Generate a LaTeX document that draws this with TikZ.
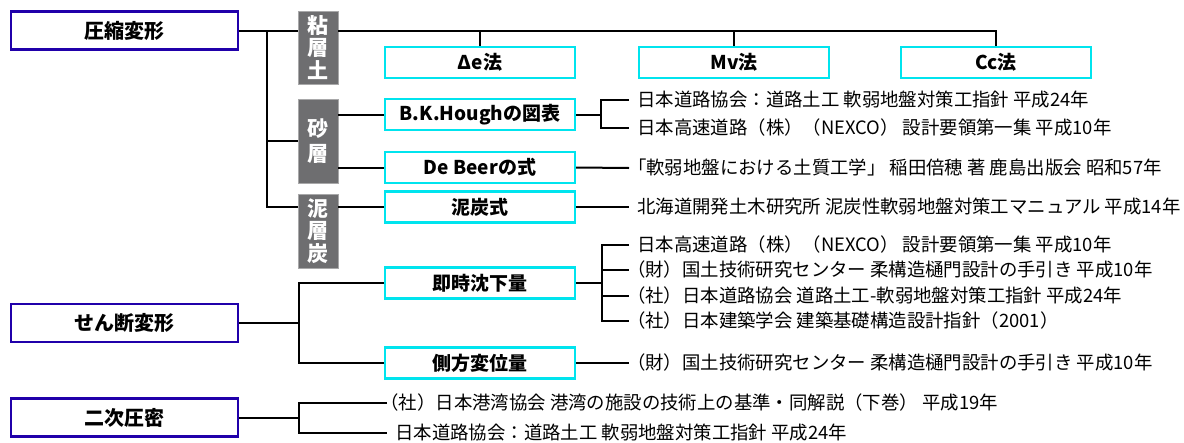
\documentclass[tikz,border=0pt]{standalone}
\usepackage{fontspec}
\setmainfont{Noto Sans CJK JP}
\definecolor{myblue}{RGB}{32,0,170}
\definecolor{mycyan}{RGB}{0,228,238}
\definecolor{mygray}{RGB}{110,110,112}
\begin{document}
\begin{tikzpicture}[x=1pt,y=-1pt,
  mainbox/.style={draw=myblue, line width=2.5pt, fill=white, minimum width=227pt, minimum height=38pt, inner sep=0pt, font=\fontsize{20}{24}\selectfont\bfseries},
  cbox/.style={draw=mycyan, line width=2.4pt, fill=white, minimum width=190pt, minimum height=31pt, inner sep=0pt, font=\fontsize{19}{22}\selectfont\bfseries},
  gbox/.style={fill=mygray, draw=mygray!60, line width=0.8pt, text=white, minimum width=40pt, inner sep=0pt, align=center, font=\fontsize{21}{22.5}\selectfont\bfseries},
  ref/.style={anchor=west, inner xsep=8pt, inner ysep=1pt, font=\fontsize{18.4}{20}\selectfont},
  conn/.style={line width=2pt, black}]
\useasboundingbox (0,0) rectangle (1184,442);

% main category boxes
\node[mainbox] (A) at (124.5,30.5) {圧縮変形};
\node[mainbox] (B) at (124.5,323) {せん断変形};
\node[mainbox] (C) at (124.5,417.5) {二次圧密};

% gray soil boxes
\node[gbox, minimum height=73pt] (G1) at (318,47.5) {粘\\層\\土};
\node[gbox, minimum height=84pt, font=\fontsize{21}{25.5}\selectfont\bfseries] (G2) at (318,141) {砂\\層};
\node[gbox, minimum height=74pt] (G3) at (318,231) {泥\\層\\炭};

% cyan method boxes
\node[cbox] (De) at (480,62.5) {Δe法};
\node[cbox] (Mv) at (734,62.5) {Mv法};
\node[cbox] (Cc) at (996,62.5) {Cc法};
\node[cbox] (H) at (480,114.5) {B.K.Houghの図表};
\node[cbox] (D) at (480,167.5) {De Beerの式};
\node[cbox] (P) at (480,207) {泥炭式};
\node[cbox] (J) at (480,283) {即時沈下量};
\node[cbox] (S) at (480,363) {側方変位量};

% reference texts
\node[ref] (r1) at (629,100) {日本道路協会：道路土工 軟弱地盤対策工指針 平成24年};
\node[ref] (r2) at (629,128) {日本高速道路（株）（NEXCO） 設計要領第一集 平成10年};
\node[ref] (r3) at (629,168) {\hspace*{-0.5em}「軟弱地盤における土質工学」 稲田倍穂 著 鹿島出版会 昭和57年};
\node[ref] (r4) at (629,207) {北海道開発土木研究所 泥炭性軟弱地盤対策工マニュアル 平成14年};
\node[ref] (q1) at (629,245) {日本高速道路（株）（NEXCO） 設計要領第一集 平成10年};
\node[ref] (q2) at (629,270) {\hspace*{-0.55em}（財）国土技術研究センター 柔構造樋門設計の手引き 平成10年};
\node[ref] (q3) at (629,296) {\hspace*{-0.55em}（社）日本道路協会 道路土工-軟弱地盤対策工指針 平成24年};
\node[ref] (q4) at (629,321) {\hspace*{-0.55em}（社）日本建築学会 建築基礎構造設計指針（2001）};
\node[ref] (s1) at (629,363) {\hspace*{-0.55em}（財）国土技術研究センター 柔構造樋門設計の手引き 平成10年};
\node[ref] (n1) at (387,403) {\hspace*{-0.8em}（社）日本港湾協会 港湾の施設の技術上の基準・同解説（下巻） 平成19年};
\node[ref] (n2) at (387,433) {日本道路協会：道路土工 軟弱地盤対策工指針 平成24年};

% compression tree
\coordinate (tA) at (267,30.5);
\draw[conn] (A.east) -- (A.east -| G1.west);
\draw[conn] (tA) |- (G3.west |- P.west);
\draw[conn] (tA |- G2.west) -- (G2.west);
\draw[conn] (G1.east |- A.east) -| (Cc.north);
\draw[conn] (De.north) -- (De.north |- A.east);
\draw[conn] (Mv.north) -- (Mv.north |- A.east);
\draw[conn] (G2.east |- H.west) -- (H.west);
\draw[conn] (G2.east |- D.west) -- (D.west);
\draw[conn] (G3.east |- P.west) -- (P.west);

% Hough bracket
\path (H.east) ++(25,0) coordinate (hb);
\draw[conn] (H.east) -- (hb);
\draw[conn] (r1.west) -| (hb) |- (r2.west);
\draw[conn] (D.east) -- (r3.west);
\draw[conn] (P.east) -- (r4.west);

% shear tree
\coordinate (sb) at (299,323);
\draw[conn] (B.east) -- (sb);
\draw[conn] (J.west) -| (sb) |- (S.west);
\path (J.east) ++(26,0) coordinate (jb);
\draw[conn] (J.east) -- (jb);
\draw[conn] (q1.west) -| (jb) |- (q4.west);
\draw[conn] (jb |- q2.west) -- (q2.west);
\draw[conn] (jb |- q3.west) -- (q3.west);
\draw[conn] (S.east) -- (s1.west);

% secondary consolidation
\coordinate (cb) at (299,417.5);
\draw[conn] (C.east) -- (cb);
\draw[conn] (n1.west) -| (cb) |- (n2.west);
\end{tikzpicture}
\end{document}
